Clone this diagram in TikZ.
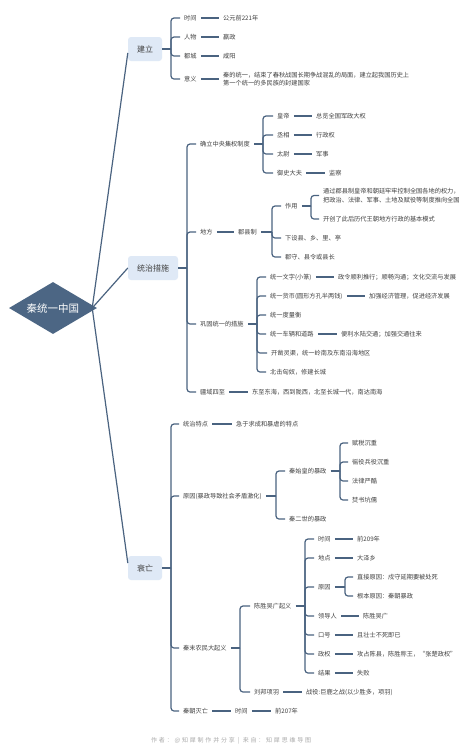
\documentclass[tikz,border=0pt]{standalone}
\usepackage{fontspec}
\setmainfont{Noto Sans CJK SC}
\newfontfamily\footfont[LetterSpace=30]{Noto Sans CJK SC}
\usetikzlibrary{shapes.geometric}
\definecolor{lc}{RGB}{74,99,128}
\definecolor{rootc}{RGB}{76,102,132}
\definecolor{boxc}{RGB}{223,233,246}
\definecolor{txt}{RGB}{64,64,64}
\definecolor{footc}{RGB}{170,170,170}
\newcommand\fork[3]{\draw[ln] (#1.east) -- (#1.east -| #2);
  \foreach \ch in {#3}{\draw[bk] (#1.east -| #2) |- (\ch.west);}}
\newcommand\link[2]{\draw[ln] (#1.east) -- (#2.west);}
\begin{document}
\begin{tikzpicture}[x=1pt,y=-1pt,
 lv/.style={anchor=west, inner xsep=4pt, inner ysep=1pt, font=\fontsize{6.2}{8.5}\selectfont, text=txt},
 lvm/.style={lv, align=left},
 top/.style={fill=boxc, rounded corners=3pt, font=\fontsize{8}{10}\selectfont, text=txt, minimum height=24pt, inner sep=0pt},
 ln/.style={draw=lc, line width=1.2pt},
 bk/.style={ln, rounded corners=3pt}]
\fill[white] (0,0) rectangle (474,756);
\useasboundingbox (0,0) rectangle (474,756);

% root and level 1
\node[diamond, aspect=1.7, fill=rootc, text=white, font=\fontsize{10.5}{12}\selectfont,
      minimum width=88pt, minimum height=52pt, inner sep=0pt] (root) at (53,308) {秦统一中国};
\node[top, minimum width=34pt] (b1) at (145,49) {建立};
\node[top, minimum width=50pt] (b2) at (153,268) {统治措施};
\node[top, minimum width=34pt] (b3) at (145,568) {衰亡};
\draw[ln] ([xshift=-5pt]root.east) -- ([yshift=-4pt]b1.west);
\draw[ln] ([xshift=-5pt]root.east) -- (b2.west);
\draw[ln] ([xshift=-5pt]root.east) -- ([yshift=5pt]b3.west);

% bracket x positions
\coordinate (X1) at (171,0);
\coordinate (X2) at (187,0);
\coordinate (X3) at (263,0);
\coordinate (X4) at (272,0);
\coordinate (X5) at (311,0);
\coordinate (X6) at (257,0);
\coordinate (X7) at (171,0);
\coordinate (X8) at (276,0);
\coordinate (X9) at (340,0);
\coordinate (X10) at (240,0);
\coordinate (X11) at (305,0);
\coordinate (X12) at (345,0);

% 建立
\node[lv] (a1) at (180,18) {时间};
\node[lv] (a1v) at (219,18) {公元前221年};
\node[lv] (a2) at (180,37) {人物};
\node[lv] (a2v) at (219,37) {嬴政};
\node[lv] (a3) at (180,56) {都城};
\node[lv] (a3v) at (219,56) {咸阳};
\node[lv] (a4) at (180,79) {意义};
\node[lvm] (a4v) at (219,79) {秦的统一，结束了春秋战国长期争战混乱的局面，建立起我国历史上\\第一个统一的多民族的封建国家};
\fork{b1}{X1}{a1,a2,a3,a4}
\link{a1}{a1v}\link{a2}{a2v}\link{a3}{a3v}\link{a4}{a4v}

% 统治措施
\node[lv] (c1) at (196,144) {确立中央集权制度};
\node[lv] (c2) at (196,232) {地方};
\node[lv] (c3) at (196,324) {巩固统一的措施};
\node[lv] (c4) at (196,392) {疆域四至};
\node[lv] (c4v) at (248,392) {东至东海，西到陇西，北至长城一代，南达南海};
\fork{b2}{X2}{c1,c2,c3,c4}
\link{c4}{c4v}

\node[lv] (e1) at (273,116) {皇帝};
\node[lv] (e1v) at (312,116) {总览全国军政大权};
\node[lv] (e2) at (273,135) {丞相};
\node[lv] (e2v) at (312,135) {行政权};
\node[lv] (e3) at (273,154) {太尉};
\node[lv] (e3v) at (312,154) {军事};
\node[lv] (e4) at (273,173) {御史大夫};
\node[lv] (e4v) at (325,173) {监察};
\fork{c1}{X3}{e1,e2,e3,e4}
\link{e1}{e1v}\link{e2}{e2v}\link{e3}{e3v}\link{e4}{e4v}

\node[lv] (f0) at (234,232) {郡县制};
\link{c2}{f0}
\node[lv] (f1) at (281,206) {作用};
\node[lv] (f2) at (281,238) {下设县、乡、里、亭};
\node[lv] (f3) at (281,257) {郡守、县令或县长};
\fork{f0}{X4}{f1,f2,f3}
\node[lvm] (g1) at (319,195.5) {通过郡县制皇帝和朝廷牢牢控制全国各地的权力，\\把政治、法律、军事、土地及赋役等制度推向全国};
\node[lv] (g2) at (319,219) {开创了此后历代王朝地方行政的基本模式};
\fork{f1}{X5}{g1,g2}

\node[lv] (h1) at (266,277) {统一文字(小篆)};
\node[lv] (h1v) at (334,277) {政令顺利推行；顺畅沟通；文化交流与发展};
\node[lv] (h2) at (266,296) {统一货币(圆形方孔半两钱)};
\node[lv] (h2v) at (365,296) {加强经济管理，促进经济发展};
\node[lv] (h3) at (266,315) {统一度量衡};
\node[lv] (h4) at (266,334) {统一车辆和道路};
\node[lv] (h4v) at (337,334) {便利水陆交通；加强交通往来};
\node[lv] (h5) at (267,353) {开凿灵渠，统一岭南及东南沿海地区};
\node[lv] (h6) at (266,372) {北击匈奴，修建长城};
\fork{c3}{X6}{h1,h2,h3,h4,h5,h6}
\link{h1}{h1v}\link{h2}{h2v}\link{h4}{h4v}

% 衰亡
\node[lv] (d1) at (179,424) {统治特点};
\node[lv] (d1v) at (232,424) {急于求成和暴虐的特点};
\node[lv] (d2) at (179,496) {原因(暴政导致社会矛盾激化)};
\node[lv] (d3) at (179,648) {秦末农民大起义};
\node[lv] (d4) at (179,711) {秦朝灭亡};
\node[lv] (d4a) at (231,711) {时间};
\node[lv] (d4b) at (271,711) {前207年};
\fork{b3}{X7}{d1,d2,d3,d4}
\link{d1}{d1v}\link{d4}{d4a}\link{d4a}{d4b}

\node[lv] (i1) at (285,471) {秦始皇的暴政};
\node[lv] (i2) at (285,519) {秦二世的暴政};
\fork{d2}{X8}{i1,i2}
\node[lv] (j1) at (348,443) {赋税沉重};
\node[lv] (j2) at (348,462) {徭役兵役沉重};
\node[lv] (j3) at (348,481) {法律严酷};
\node[lv] (j4) at (348,500) {焚书坑儒};
\fork{i1}{X9}{j1,j2,j3,j4}

\node[lv] (k1) at (250,606) {陈胜吴广起义};
\node[lv] (k2) at (250,692) {刘邦项羽};
\node[lv] (k2v) at (302,692) {战役:巨鹿之战(以少胜多，项羽)};
\fork{d3}{X10}{k1,k2}
\link{k2}{k2v}

\node[lv] (m1) at (314,539) {时间};
\node[lv] (m1v) at (353,539) {前209年};
\node[lv] (m2) at (314,558) {地点};
\node[lv] (m2v) at (353,558) {大泽乡};
\node[lv] (m3) at (314,587) {原因};
\node[lv] (m4) at (314,616) {领导人};
\node[lv] (m4v) at (359,616) {陈胜吴广};
\node[lv] (m5) at (314,635) {口号};
\node[lv] (m5v) at (353,635) {且壮士不死即已};
\node[lv] (m6) at (314,654) {政权};
\node[lv] (m6v) at (353,654) {攻占陈县，陈胜称王，“张楚政权”};
\node[lv] (m7) at (314,673) {结果};
\node[lv] (m7v) at (353,673) {失败};
\fork{k1}{X11}{m1,m2,m3,m4,m5,m6,m7}
\link{m1}{m1v}\link{m2}{m2v}\link{m4}{m4v}\link{m5}{m5v}\link{m6}{m6v}\link{m7}{m7v}
\node[lv] (n1) at (353,577) {直接原因：戍守延期要被处死};
\node[lv] (n2) at (353,596) {根本原因：秦朝暴政};
\fork{m3}{X12}{n1,n2}

% footer
\node[anchor=west, inner sep=0pt, text=footc, font=\footfont\fontsize{6}{7}\selectfont] (ft) at (151,741) {作者：@知犀制作并分享 | 来自：知犀思维导图};
\end{tikzpicture}
\end{document}
